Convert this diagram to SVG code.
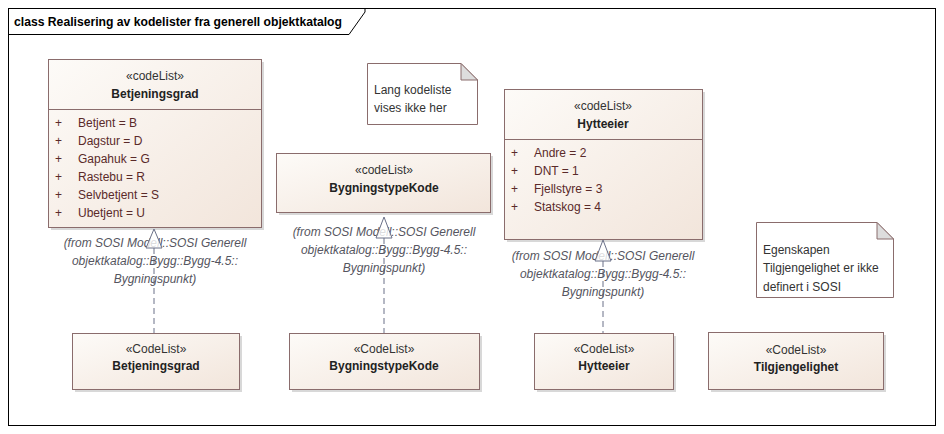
<svg xmlns="http://www.w3.org/2000/svg" width="944" height="434" viewBox="0 0 944 434">
<defs>
<linearGradient id="cls" x1="0" y1="0" x2="1" y2="1">
<stop offset="0" stop-color="#fdfbf8"/>
<stop offset="1" stop-color="#f2e5db"/>
</linearGradient>
<style>
text{font-family:"Liberation Sans",Arial,sans-serif;font-size:12px}
.box{fill:url(#cls);stroke:#8a6c6c;stroke-width:1}
.sh{fill:#b8b8b8;opacity:.55}
.st{fill:#333;text-anchor:middle}
.nm{fill:#222;font-weight:bold;text-anchor:middle}
.at{fill:#5a2a2a}
.fr{font-style:italic;fill:#555560;text-anchor:middle}
.note{fill:#fff;stroke:#8a6c6c}
.fold{fill:#ddd;stroke:#8a6c6c}
.nt{fill:#333}
.dash{stroke:#6a7088;stroke-width:1;stroke-dasharray:6,4;fill:none}
.tri{fill:#fff;fill-opacity:.8;stroke:#6a7088;stroke-width:1}
</style>
</defs>
<rect x="0" y="0" width="944" height="434" fill="#fff"/>
<g id="frame">
<rect x="8.5" y="8.5" width="927" height="417" fill="none" stroke="#000"/>
<path d="M8.5,34.5 H349 L365,12 V8.5" fill="none" stroke="#000"/>
<text x="14" y="26" style="font-weight:bold" fill="#000" textLength="328" lengthAdjust="spacingAndGlyphs">class Realisering av kodelister fra generell objektkatalog</text>
</g>
<g id="connectors">
<line class="dash" x1="154" y1="248" x2="154" y2="333"/>
<line class="dash" x1="384" y1="238" x2="384" y2="333"/>
<line class="dash" x1="603" y1="261" x2="603" y2="333"/>
</g>
<g id="Betjeningsgrad_top">
<rect class="sh" x="51" y="62" width="213" height="168"/>
<rect class="box" x="48.5" y="59.5" width="213" height="168"/>
<line x1="48.5" y1="109.5" x2="261.5" y2="109.5" stroke="#8a6c6c"/>
<text class="st" x="155" y="80">«codeList»</text>
<text class="nm" x="155" y="98">Betjeningsgrad</text>
<g class="at">
<text x="55" y="127">+</text><text x="78" y="127">Betjent = B</text>
<text x="55" y="145">+</text><text x="78" y="145">Dagstur = D</text>
<text x="55" y="163">+</text><text x="78" y="163">Gapahuk = G</text>
<text x="55" y="181">+</text><text x="78" y="181">Rastebu = R</text>
<text x="55" y="199">+</text><text x="78" y="199">Selvbetjent = S</text>
<text x="55" y="217">+</text><text x="78" y="217">Ubetjent = U</text>
</g>
<text class="fr" x="155" y="247">(from SOSI Modell::SOSI Generell</text>
<text class="fr" x="155" y="265">objektkatalog::Bygg::Bygg-4.5::</text>
<text class="fr" x="155" y="283">Bygningspunkt)</text>
<path class="tri" d="M154,229 L162,248 L146,248 Z"/>
</g>
<g id="note_lang">
<path class="note" d="M367.5,63.5 H461 L477.5,80 V124.5 H367.5 Z"/>
<path class="fold" d="M461,63.5 V80 H477.5 Z"/>
<text class="nt" x="374" y="94">Lang kodeliste</text>
<text class="nt" x="374" y="112">vises ikke her</text>
</g>
<g id="BygningstypeKode_top">
<rect class="sh" x="279" y="156" width="214" height="59"/>
<rect class="box" x="276.5" y="153.5" width="214" height="59"/>
<text class="st" x="384" y="174">«codeList»</text>
<text class="nm" x="384" y="192">BygningstypeKode</text>
<text class="fr" x="384" y="236">(from SOSI Modell::SOSI Generell</text>
<text class="fr" x="384" y="254">objektkatalog::Bygg::Bygg-4.5::</text>
<text class="fr" x="384" y="272">Bygningspunkt)</text>
<path class="tri" d="M384,217 L392,238 L376,238 Z"/>
</g>
<g id="Hytteeier_top">
<rect class="sh" x="507" y="92" width="198" height="150"/>
<rect class="box" x="504.5" y="89.5" width="198" height="150"/>
<line x1="504.5" y1="139.5" x2="702.5" y2="139.5" stroke="#8a6c6c"/>
<text class="st" x="603" y="110">«codeList»</text>
<text class="nm" x="603" y="128">Hytteeier</text>
<g class="at">
<text x="511" y="157">+</text><text x="534" y="157">Andre = 2</text>
<text x="511" y="175">+</text><text x="534" y="175">DNT = 1</text>
<text x="511" y="193">+</text><text x="534" y="193">Fjellstyre = 3</text>
<text x="511" y="211">+</text><text x="534" y="211">Statskog = 4</text>
</g>
<text class="fr" x="603" y="260">(from SOSI Modell::SOSI Generell</text>
<text class="fr" x="603" y="278">objektkatalog::Bygg::Bygg-4.5::</text>
<text class="fr" x="603" y="296">Bygningspunkt)</text>
<path class="tri" d="M603,240 L611,261 L595,261 Z"/>
</g>
<g id="note_egenskapen">
<path class="note" d="M756.5,222.5 H877 L893.5,239 V297.5 H756.5 Z"/>
<path class="fold" d="M877,222.5 V239 H893.5 Z"/>
<text class="nt" x="763" y="254">Egenskapen</text>
<text class="nt" x="763" y="272">Tilgjengelighet er ikke</text>
<text class="nt" x="763" y="291">definert i SOSI</text>
</g>
<g id="Betjeningsgrad_bottom">
<rect class="sh" x="75" y="336" width="167" height="56"/>
<rect class="box" x="72.5" y="333.5" width="167" height="56"/>
<text class="st" x="156" y="353">«CodeList»</text>
<text class="nm" x="156" y="370">Betjeningsgrad</text>
</g>
<g id="BygningstypeKode_bottom">
<rect class="sh" x="292" y="336" width="190" height="56"/>
<rect class="box" x="289.5" y="333.5" width="190" height="56"/>
<text class="st" x="384" y="353">«CodeList»</text>
<text class="nm" x="384" y="370">BygningstypeKode</text>
</g>
<g id="Hytteeier_bottom">
<rect class="sh" x="537" y="336" width="139" height="56"/>
<rect class="box" x="534.5" y="333.5" width="139" height="56"/>
<text class="st" x="604" y="353">«CodeList»</text>
<text class="nm" x="604" y="370">Hytteeier</text>
</g>
<g id="Tilgjengelighet">
<rect class="sh" x="711" y="335" width="175" height="57"/>
<rect class="box" x="708.5" y="332.5" width="175" height="57"/>
<text class="st" x="796" y="354">«CodeList»</text>
<text class="nm" x="796" y="371">Tilgjengelighet</text>
</g>
</svg>
